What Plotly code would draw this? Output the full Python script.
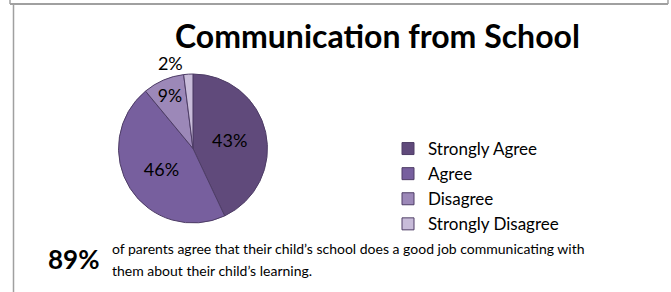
import plotly.graph_objects as go

categories = ["Strongly Agree", "Agree", "Disagree", "Strongly Disagree"]
values = [43, 46, 9, 2]
colors = ["#604A7B", "#775F9E", "#9C88B8", "#C8BCD9"]
title_text = "Communication from School"
headline = "89%"
caption_lines = [
    "of parents agree that their child’s school does a good job communicating with",
    "them about their child’s learning.",
]

FONT = "Lato, 'Open Sans', sans-serif"
W, H = 671, 292

fig = go.Figure()
fig.add_trace(go.Pie(
    labels=categories,
    values=values,
    sort=False,
    direction="clockwise",
    rotation=0,
    marker=dict(colors=colors, line=dict(color="#4E3D66", width=1)),
    texttemplate="%{value}%",
    textinfo="text",
    textposition=["inside", "inside", "inside", "outside"],
    insidetextorientation="horizontal",
    textfont=dict(family=FONT, size=18, color="#000000"),
    outsidetextfont=dict(family=FONT, size=18, color="#000000"),
    domain=dict(x=[0.1766, 0.3986], y=[0.2363, 0.7466]),
    hoverinfo="label+percent",
))

shapes = [
    dict(type="line", xref="paper", yref="paper", x0=10/W, x1=668/W, y0=1-4/H, y1=1-4/H,
         line=dict(color="#A0A0A0", width=2)),
    dict(type="line", xref="paper", yref="paper", x0=10/W, x1=10/W, y0=1, y1=1-4/H,
         line=dict(color="#A0A0A0", width=1.5)),
    dict(type="line", xref="paper", yref="paper", x0=668/W, x1=668/W, y0=1, y1=1-4/H,
         line=dict(color="#A0A0A0", width=1.5)),
    dict(type="line", xref="paper", yref="paper", x0=13.5/W, x1=13.5/W, y0=1-5/H, y1=0,
         line=dict(color="#A0A0A0", width=1.5)),
]

annotations = [
    dict(text="<b>" + title_text + "</b>", x=377/W, y=1-35/H, xref="paper", yref="paper",
         xanchor="center", yanchor="middle", showarrow=False,
         font=dict(family=FONT, size=32, color="#000000")),
    dict(text="<b>" + headline + "</b>", x=46/W, y=1-259/H, xref="paper", yref="paper",
         xanchor="left", yanchor="middle", showarrow=False,
         font=dict(family=FONT, size=26, color="#000000")),
]
for i, line in enumerate(caption_lines):
    annotations.append(dict(text=line, x=110/W, y=1-(248 + 22*i)/H, xref="paper", yref="paper",
                            xanchor="left", yanchor="middle", align="left", showarrow=False,
                            font=dict(family=FONT, size=14, color="#000000")))

fig.update_layout(
    width=W, height=H,
    margin=dict(l=0, r=0, t=0, b=0),
    paper_bgcolor="white", plot_bgcolor="white",
    showlegend=True,
    legend=dict(x=388/W, y=1-131/H, xanchor="left", yanchor="top",
                font=dict(family=FONT, size=17, color="#000000"),
                itemwidth=30, tracegroupgap=0, bgcolor="rgba(0,0,0,0)"),
    shapes=shapes,
    annotations=annotations,
)

fig.write_html("out.html", config={"displayModeBar": False},
               post_script="document.body.style.margin='0';document.body.style.overflow='hidden';")
